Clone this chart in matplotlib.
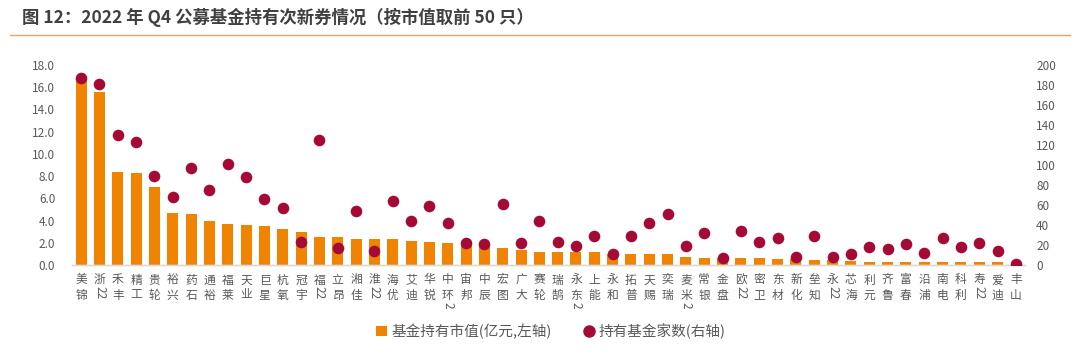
import matplotlib
matplotlib.use('Agg')
import matplotlib.pyplot as plt
from matplotlib.lines import Line2D
from matplotlib.patches import Patch

plt.rcParams['font.family'] = ['Noto Sans CJK SC', 'DejaVu Sans']

# data
names = ['美锦', '浙22', '禾丰', '精工', '贵轮', '裕兴', '药石', '通裕', '福莱', '天业',
         '巨星', '杭氧', '冠宇', '福22', '立昂', '湘佳', '淮22', '海优', '艾迪', '华锐',
         '中环2', '宙邦', '中辰', '宏图', '广大', '赛轮', '瑞鹄', '永东2', '上能', '永和',
         '拓普', '天赐', '奕瑞', '麦米2', '常银', '金盘', '欧22', '密卫', '东材', '新化',
         '垒知', '永22', '芯海', '利元', '齐鲁', '富春', '沿浦', '南电', '科利', '寿22',
         '爱迪', '丰山']
market_value = [16.9, 15.6, 8.4, 8.3, 7.0, 4.7, 4.6, 4.0, 3.7, 3.6,
                3.5, 3.25, 2.95, 2.55, 2.5, 2.35, 2.35, 2.35, 2.2, 2.05,
                2.0, 1.87, 1.8, 1.57, 1.33, 1.15, 1.15, 1.15, 1.15, 1.0,
                1.0, 0.96, 0.96, 0.72, 0.66, 0.6, 0.6, 0.6, 0.54, 0.5,
                0.48, 0.45, 0.36, 0.3, 0.3, 0.3, 0.3, 0.25, 0.25, 0.25,
                0.25, 0.02]
fund_count = [187, 181, 130, 123, 89, 68, 97, 75, 101, 88,
              66, 57, 23, 125, 17, 54, 14, 64, 44, 59,
              42, 22, 21, 61, 22, 44, 23, 19, 29, 11,
              29, 42, 51, 19, 32, 7, 34, 23, 27, 8,
              29, 8, 11, 18, 16, 21, 12, 27, 18, 22,
              14, 1]
left_ticks = [0, 2, 4, 6, 8, 10, 12, 14, 16, 18]
right_ticks = [0, 20, 40, 60, 80, 100, 120, 140, 160, 180, 200]

bar_color = '#F08300'
dot_color = '#A50A36'
txt_color = '#595959'

fig = plt.figure(figsize=(10.8, 3.54), dpi=100)
ax = fig.add_axes([72 / 1080, 1 - 265 / 354, 953 / 1080, 200 / 354])
ax2 = ax.twinx()

x = list(range(len(names)))
ax.bar(x, market_value, width=0.6, color=bar_color, zorder=2)
ax2.scatter(x, fund_count, s=70, color=dot_color, zorder=3, linewidths=0)

ax.set_xlim(-0.5, len(names) - 0.5)
ax.set_ylim(0, 18)
ax2.set_ylim(0, 200)
ax.set_yticks(left_ticks)
ax.set_yticklabels([f'{v:.1f}' for v in left_ticks])
ax2.set_yticks(right_ticks)
ax.set_xticks([])

for a in (ax, ax2):
    for side in ('top', 'left', 'right'):
        a.spines[side].set_visible(False)
    a.spines['bottom'].set_color('#D9D9D9')
    a.spines['bottom'].set_linewidth(1.0)
ax.tick_params(axis='y', length=0, pad=12, labelsize=8.5, labelcolor=txt_color)
ax2.tick_params(axis='y', length=0, pad=8, labelsize=8.5, labelcolor=txt_color)

# vertical category labels, digits turned sideways like in the source
px = 0.72
for i, name in enumerate(names):
    tokens = []
    for ch in name:
        if ch.isdigit() and tokens and tokens[-1].isdigit():
            tokens[-1] += ch
        else:
            tokens.append(ch)
    for k, tok in enumerate(tokens):
        if tok.isdigit():
            off = 15 + 15 * (k - 1) + 7 + 3 * len(tok)
            rot = -90
        else:
            off = 15 + 15 * k
            rot = 0
        ax.annotate(tok, xy=(i, 0), xycoords=('data', 'axes fraction'),
                    xytext=(0, -off * px), textcoords='offset points',
                    ha='center', va='center', rotation=rot,
                    fontsize=8.5, color=txt_color)

# title and rule under it
fig.text(22 / 1080, 1 - 17 / 354, '图 12：2022 年 Q4 公募基金持有次新券情况（按市值取前 50 只）',
         ha='left', va='center', fontsize=12.5, fontweight='bold', color='#404040')
fig.add_artist(Line2D([10 / 1080, 1070 / 1080], [1 - 35 / 354, 1 - 35 / 354],
                      color='#F4A15D', linewidth=1.0))

handles = [Patch(facecolor=bar_color, edgecolor='none', label='基金持有市值(亿元,左轴)'),
           Line2D([], [], marker='o', linestyle='none', markersize=8,
                  markerfacecolor=dot_color, markeredgecolor=dot_color,
                  label='持有基金家数(右轴)')]
fig.legend(handles=handles, loc='center', bbox_to_anchor=(0.51, 1 - 331 / 354), ncol=2,
           frameon=False, fontsize=10.5, labelcolor=txt_color, handlelength=0.7,
           handletextpad=0.3, columnspacing=2.2)

fig.savefig('out.png', dpi=100)
